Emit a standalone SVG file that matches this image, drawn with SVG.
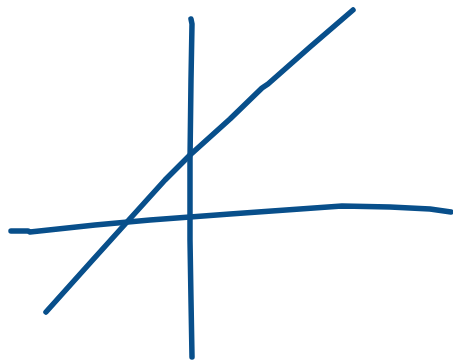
<svg xmlns="http://www.w3.org/2000/svg" width="453" height="364" viewBox="0 0 453 364">
<style>
.s{fill:none;stroke:#084f8b;stroke-width:5.5;stroke-linecap:round;stroke-linejoin:round}
</style>
<rect width="453" height="364" fill="#ffffff"/>
<g id="connectors">
<path class="s" d="M191,19 L192,24 L191,80 L190,160 L190,240 L191,300 L192,357"/>
<path class="s" d="M11,231 L28,231 L30,232 L95,225 L150,220 L230,214 L300,209 L342,206 L390,207 L430,209 L451,212"/>
<path class="s" d="M46,312 L90,263 L127,222 L165,180 L190,155 L230,119 L262,88 L268,84 L310,47 L353,10"/>
</g>
</svg>
